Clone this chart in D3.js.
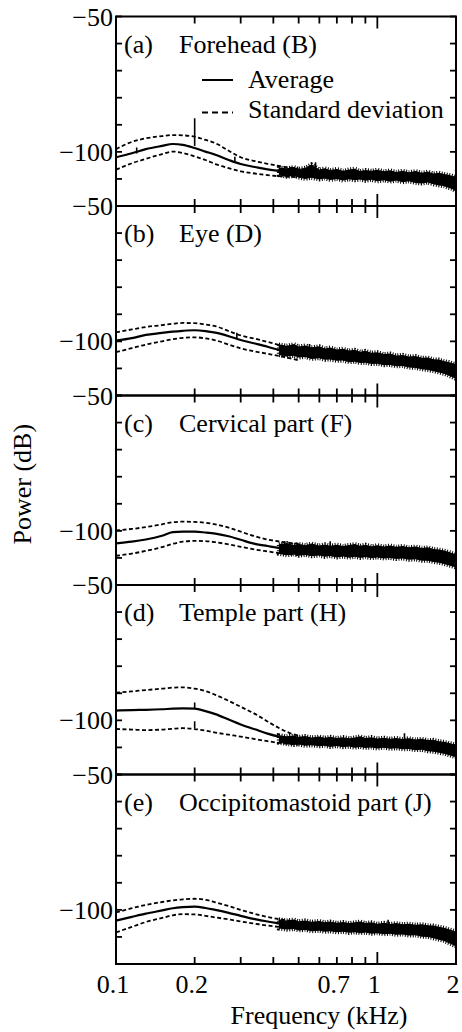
<!DOCTYPE html>
<html>
<head>
<meta charset="utf-8">
<script src="https://cdn.jsdelivr.net/npm/d3@7"></script>
<style>
  body { margin: 0; background: #fff; }
  svg { display: block; }
  svg text { font-family: "Liberation Serif", "Times New Roman", Times, serif; }
</style>
</head>
<body>
<svg id="chart" width="462" height="1032"></svg>
<script>
// panel titles
const panelTags = ["(a)", "(b)", "(c)", "(d)", "(e)"];
const panelNames = ["Forehead (B)", "Eye (D)", "Cervical part (F)", "Temple part (H)", "Occipitomastoid part (J)"];

// smooth low-frequency part (kHz)
const freq = [0.1, 0.115, 0.13, 0.15, 0.165, 0.18, 0.2, 0.22, 0.24, 0.27, 0.3, 0.34, 0.38, 0.42, 0.46, 0.5];

const avgA = [-102, -100.5, -99, -97.8, -97.1, -97.4, -98.6, -99.9, -101.1, -103, -104.5, -105.6, -106.5, -107, -107.3, -107.6];
const upA  = [-99, -96.3, -95, -94.2, -93.8, -93.9, -94.4, -95.6, -96.8, -99.6, -102, -103.4, -104.4, -105.2, -105.8, -106.2];
const loA  = [-106.6, -104.2, -102.6, -100.8, -99.9, -100.4, -101.7, -103, -104.5, -106, -107.2, -108, -108.6, -109, -109.2, -109.4];

const avgB = [-99.7, -98.8, -97.6, -96.9, -96.4, -96.1, -95.9, -96.2, -96.8, -98.1, -99.5, -100.8, -102, -103.2, -104.3, -105.3];
const upB  = [-96.7, -95.6, -94.7, -94, -93.5, -93.2, -93.3, -93.8, -94.4, -96.2, -97.8, -99, -100.2, -101.3, -102.4, -103.5];
const loB  = [-104, -102.5, -101.2, -100, -99.2, -98.7, -98.5, -98.9, -99.6, -101.2, -102.6, -103.7, -104.6, -105.4, -106.2, -107];

const avgC = [-104.6, -104, -103.2, -101.8, -100.5, -100.3, -100.3, -100.6, -101, -102, -103.3, -104.8, -105.6, -106.3, -106.8, -107.2];
const upC  = [-99.8, -99.3, -98.6, -97.6, -96.8, -96.6, -96.7, -97, -97.6, -98.8, -100.3, -102, -103.2, -103.9, -104.4, -104.8];
const loC  = [-109.2, -108.4, -107.4, -106, -104.8, -104, -103.7, -103.8, -104.2, -105, -105.9, -106.9, -107.6, -108.2, -108.6, -109];

const avgD = [-96.4, -96.2, -96.1, -95.9, -95.7, -95.6, -95.7, -96.6, -97.7, -99.7, -101.5, -103.3, -104.9, -106, -106.7, -107.1];
const upD  = [-89.8, -89.3, -88.8, -88.3, -87.9, -87.8, -88.3, -89.2, -90.6, -92.8, -95, -97.6, -100.4, -102.8, -104.6, -105.6];
const loD  = [-103.2, -103.4, -103.6, -103.4, -103.1, -102.9, -103.2, -103.8, -104.5, -105.3, -106, -106.9, -107.7, -108.3, -108.7, -109];

const avgE = [-104, -102.6, -101.4, -100.2, -99.4, -99, -98.8, -99.3, -100, -101.1, -102.2, -103.4, -104.3, -105, -105.6, -106];
const upE  = [-101, -99.4, -98.2, -97.1, -96.5, -96.1, -95.9, -96.3, -97.2, -98.6, -100, -101.5, -102.6, -103.4, -104, -104.5];
const loE  = [-108.3, -106.3, -104.5, -103, -102, -101.6, -101.7, -102.2, -102.8, -103.5, -104.3, -105.1, -105.8, -106.3, -106.6, -106.9];

// noisy high-frequency band: upper / lower envelope
const noiseFreq = [0.42, 0.45, 0.48, 0.5, 0.53, 0.56, 0.6, 0.63, 0.66, 0.7, 0.74, 0.78, 0.82, 0.86, 0.9, 0.95,
                   1.0, 1.06, 1.12, 1.18, 1.25, 1.32, 1.4, 1.48, 1.56, 1.64, 1.72, 1.8, 1.87, 1.93, 2.0];

const hiA = [-105.8, -106.1, -105.6, -106.3, -105.9, -104.6, -106.5, -106.1, -106.7, -106.3, -107, -106.5, -106.2, -107.1, -106.7, -107,
             -106.6, -107.2, -106.8, -107.4, -107, -107.5, -107.1, -107.7, -107.3, -108, -107.7, -108.2, -108.5, -108.8, -109.2];
const lwA = [-108.6, -109.2, -108.9, -109.5, -110, -109.6, -110.2, -109.8, -110.4, -110, -110.6, -110.1, -110.5, -110.2, -110.7, -110.3,
             -110.9, -110.5, -111, -110.6, -111.2, -110.9, -111.5, -111.7, -111.3, -112, -112.4, -112.7, -113.3, -113.7, -114.5];

const hiB = [-101.2, -101.6, -101, -101.9, -101.5, -102.2, -101.8, -102.6, -102.3, -103, -102.7, -103.4, -103.1, -103.8, -103.5, -104.2,
             -104, -104.7, -104.5, -105.2, -105, -105.6, -105.4, -106.1, -106, -106.6, -106.7, -107.3, -107.6, -108, -108.4];
const lwB = [-105, -105.6, -105.3, -106, -105.8, -106.5, -106.2, -106.8, -106.7, -107.2, -107.1, -107.7, -107.5, -108, -107.9, -108.4,
             -108.3, -108.8, -108.7, -109.2, -109.1, -109.7, -109.8, -110.3, -110.6, -111, -111.5, -112, -112.6, -113.2, -113.9];

const hiC = [-104.9, -104.5, -105.2, -104.8, -105.3, -104.7, -105.4, -105, -105.5, -105.1, -105.6, -105.2, -104.9, -105.5, -105.1, -105.7,
             -105.3, -105.8, -105.4, -105.9, -105.6, -106.1, -105.8, -106.3, -106.1, -106.7, -106.9, -107.3, -107.7, -108.2, -108.6];
const lwC = [-108.5, -109, -108.7, -109.2, -108.9, -109.4, -109.1, -109.6, -109.3, -109.8, -109.5, -109.9, -109.6, -110, -109.7, -110.1,
             -109.8, -110.2, -110, -110.4, -110.2, -110.7, -110.5, -111, -111, -111.5, -111.8, -112.2, -112.7, -113.1, -113.5];

const hiD = [-105.5, -105.9, -105.6, -106.1, -105.8, -106.3, -106, -106.4, -106.1, -106.5, -106.2, -106.6, -106.3, -105.9, -106.5, -106.2,
             -106.7, -106.4, -106.8, -106.5, -106.9, -106.6, -107.1, -106.8, -107.3, -107.2, -107.7, -107.9, -108.3, -108.6, -108.9];
const lwD = [-108.3, -108.7, -109.1, -108.9, -109.4, -109.2, -109.6, -109.4, -109.8, -109.5, -109.9, -109.7, -110.1, -109.8, -110.2, -110,
             -110.4, -110.1, -110.5, -110.3, -110.7, -110.6, -111, -110.9, -111.4, -111.6, -112, -112.3, -112.8, -113.2, -113.6];

const hiE = [-103.5, -103.9, -103.6, -104.2, -103.9, -104.4, -104.1, -104.6, -104.3, -104.8, -104.5, -104.9, -104.6, -104.3, -104.9, -104.6,
             -105.1, -104.8, -105.2, -104.9, -105.3, -105.1, -105.5, -105.3, -105.7, -105.8, -106.2, -106.6, -107.1, -107.5, -108];
const lwE = [-106.9, -107.3, -107.1, -107.6, -107.4, -107.9, -107.7, -108.1, -107.9, -108.3, -108.1, -108.5, -108.3, -108.6, -108.4, -108.8,
             -108.6, -109, -108.8, -109.2, -109.1, -109.5, -109.4, -109.9, -110, -110.5, -111, -111.5, -112.2, -112.8, -113.5];

// narrow spikes: [freq, from dB, to dB]
const spikesA = [[0.2, -97.8, -87.6], [0.12, -100.6, -98.4], [0.58, -106, -103.8], [0.285, -103.6, -101.8]];
const spikesB = [[0.29, -98.8, -96.8], [0.55, -103, -101]];
const spikesC = [[0.66, -106, -103.8]];
const spikesD = [[0.2, -95.7, -93.4], [0.2, -102.8, -100.3], [1.27, -107, -104.8]];
const spikesE = [[1.1, -106, -103.7]];

// axis ticks
const yTicks = [-50, -60, -70, -80, -90, -100, -110, -120];
const yLabels = [-50, -100];
const xTicks = [0.2, 0.3, 0.4, 0.5, 0.6, 0.7, 0.8, 0.9, 1];
const xLabels = [0.1, 0.2, 0.7, 1, 2];

const panels = [
  { avg: avgA, up: upA, lo: loA, hi: hiA, lw: lwA, spikes: spikesA },
  { avg: avgB, up: upB, lo: loB, hi: hiB, lw: lwB, spikes: spikesB },
  { avg: avgC, up: upC, lo: loC, hi: hiC, lw: lwC, spikes: spikesC },
  { avg: avgD, up: upD, lo: loD, hi: hiD, lw: lwD, spikes: spikesD },
  { avg: avgE, up: upE, lo: loE, hi: hiE, lw: lwE, spikes: spikesE }
];

const padL = 116, padR = 456, padT = 16.5, padB = 964;
const ph = (padB - padT) / panels.length;
const fs = 26;

const svg = d3.select("#chart");
const x = d3.scaleLog().domain([0.1, 2]).range([padL, padR]);
const fmt = d => (d < 0 ? "\u2212" : "") + Math.abs(d);

panels.forEach((p, i) => {
  const y0 = padT + i * ph;
  const y = d3.scaleLinear().domain([-120, -50]).range([y0 + ph, y0]);
  const g = svg.append("g");

  g.append("clipPath").attr("id", "clip" + i)
    .append("rect").attr("x", padL).attr("y", y0).attr("width", padR - padL).attr("height", ph);

  const plot = g.append("g").attr("clip-path", `url(#clip${i})`);

  // noise band, with a ragged dotted fringe along its edge
  const band = noiseFreq.map((f, k) => ({ f: f, hi: p.hi[k], lw: p.lw[k] }));
  const area = d3.area().x(d => x(d.f)).y0(d => y(d.lw)).y1(d => y(d.hi));
  plot.append("path")
    .datum(band)
    .attr("d", area)
    .attr("fill", "#000");
  plot.append("path")
    .datum(band)
    .attr("d", area)
    .attr("fill", "none")
    .attr("stroke", "#000")
    .attr("stroke-width", 4)
    .attr("stroke-dasharray", "1,1.6");

  const line = d3.line().x(d => x(d[0])).y(d => y(d[1])).curve(d3.curveMonotoneX);

  [p.up, p.lo].forEach(s => {
    plot.append("path")
      .datum(freq.map((f, k) => [f, s[k]]))
      .attr("d", line)
      .attr("fill", "none")
      .attr("stroke", "#000")
      .attr("stroke-width", 1.8)
      .attr("stroke-dasharray", "4,2.5");
  });

  plot.append("path")
    .datum(freq.map((f, k) => [f, p.avg[k]]))
    .attr("d", line)
    .attr("fill", "none")
    .attr("stroke", "#000")
    .attr("stroke-width", 2.2);

  plot.selectAll(".spike")
    .data(p.spikes)
    .enter().append("line")
    .attr("x1", d => x(d[0])).attr("x2", d => x(d[0]))
    .attr("y1", d => y(d[1])).attr("y2", d => y(d[2]))
    .attr("stroke", "#000")
    .attr("stroke-width", 1.6);

  // frame
  g.append("rect")
    .attr("x", padL).attr("y", y0).attr("width", padR - padL).attr("height", ph)
    .attr("fill", "none").attr("stroke", "#000").attr("stroke-width", 2);

  // y ticks both sides, inward
  g.selectAll(".yl").data(yTicks).enter().append("line")
    .attr("x1", padL).attr("x2", padL + 6)
    .attr("y1", d => y(d)).attr("y2", d => y(d))
    .attr("stroke", "#000").attr("stroke-width", 1.8);
  g.selectAll(".yr").data(yTicks).enter().append("line")
    .attr("x1", padR).attr("x2", padR - 6)
    .attr("y1", d => y(d)).attr("y2", d => y(d))
    .attr("stroke", "#000").attr("stroke-width", 1.8);

  g.selectAll(".ylab").data(yLabels).enter().append("text")
    .attr("x", padL - 3)
    .attr("y", d => y(d))
    .attr("dy", "0.35em")
    .attr("text-anchor", "end")
    .attr("font-size", fs)
    .text(fmt);

  // x ticks top and bottom, inward
  const tl = d => (d === 1 ? 12 : 7);
  g.selectAll(".xt").data(xTicks).enter().append("line")
    .attr("x1", d => x(d)).attr("x2", d => x(d))
    .attr("y1", y0).attr("y2", d => y0 + tl(d))
    .attr("stroke", "#000").attr("stroke-width", 1.8);
  g.selectAll(".xb").data(xTicks).enter().append("line")
    .attr("x1", d => x(d)).attr("x2", d => x(d))
    .attr("y1", y0 + ph).attr("y2", d => y0 + ph - tl(d))
    .attr("stroke", "#000").attr("stroke-width", 1.8);

  // panel title
  g.append("text").attr("x", padL + 8).attr("y", y0 + 36)
    .attr("font-size", fs).text(panelTags[i]);
  g.append("text").attr("x", padL + 63).attr("y", y0 + 36)
    .attr("font-size", fs).text(panelNames[i]);

  // legend in the first panel
  if (i === 0) {
    g.append("line").attr("x1", padL + 86).attr("x2", padL + 117)
      .attr("y1", y0 + 63.5).attr("y2", y0 + 63.5)
      .attr("stroke", "#000").attr("stroke-width", 2);
    g.append("text").attr("x", padL + 132).attr("y", y0 + 71)
      .attr("font-size", fs).text("Average");
    g.append("line").attr("x1", padL + 86).attr("x2", padL + 117)
      .attr("y1", y0 + 96).attr("y2", y0 + 96)
      .attr("stroke", "#000").attr("stroke-width", 1.8)
      .attr("stroke-dasharray", "6,4");
    g.append("text").attr("x", padL + 132).attr("y", y0 + 101.5)
      .attr("font-size", fs).text("Standard deviation");
  }
});

// x tick labels under the last panel
svg.selectAll(".xlab").data(xLabels).enter().append("text")
  .attr("x", d => x(d) - 3)
  .attr("y", padB + 29)
  .attr("text-anchor", "middle")
  .attr("font-size", fs)
  .text(d => d);

svg.append("text")
  .attr("x", 319).attr("y", padB + 60)
  .attr("text-anchor", "middle")
  .attr("font-size", fs)
  .text("Frequency (kHz)");

svg.append("text")
  .attr("transform", `translate(31,${(padT + padB) / 2 - 6}) rotate(-90)`)
  .attr("text-anchor", "middle")
  .attr("font-size", fs)
  .text("Power (dB)");
</script>
</body>
</html>
